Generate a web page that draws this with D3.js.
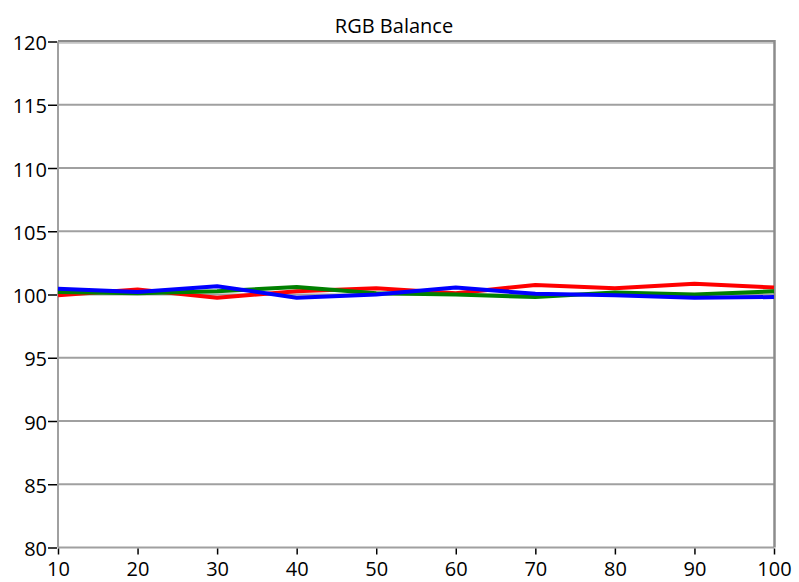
<!DOCTYPE html>
<html><head><meta charset="utf-8">
<script src="https://cdn.jsdelivr.net/npm/d3@7"></script>
<style>body{margin:0;background:#fff}</style>
</head><body>
<script>
const xValues = [10,20,30,40,50,60,70,80,90,100];
const red   = [99.95,100.4,99.75,100.25,100.5,100.1,100.75,100.5,100.85,100.55];
const green = [100.2,100.1,100.25,100.6,100.1,100.0,99.8,100.15,100.0,100.25];
const blue  = [100.45,100.2,100.65,99.75,100.0,100.55,100.05,99.95,99.75,99.8];
const yTicks = [80,85,90,95,100,105,110,115,120];
const xTicks = [10,20,30,40,50,60,70,80,90,100];
const title = "RGB Balance";

const W=799,H=582;
const m={left:58,right:25,top:41.5,bottom:34.5};
const svg=d3.select("body").append("svg").attr("width",W).attr("height",H);
const x=d3.scaleLinear().domain([10,100]).range([m.left,W-m.right]);
const y=d3.scaleLinear().domain([80,120]).range([H-m.bottom,m.top]);
const font="'Open Sans', sans-serif";

// gridlines
svg.append("g").selectAll("line").data(yTicks).join("line")
  .attr("x1",x(10)).attr("x2",x(100)).attr("y1",d=>y(d)).attr("y2",d=>y(d))
  .attr("stroke","#a0a0a0").attr("stroke-width",2);
// frame
svg.append("line").attr("x1",x(10)).attr("x2",x(100)+1).attr("y1",y(120)-0.5).attr("y2",y(120)-0.5).attr("stroke","#8c8c8c").attr("stroke-width",2);
svg.append("line").attr("x1",x(10)).attr("x2",x(100)).attr("y1",y(120)+1.5).attr("y2",y(120)+1.5).attr("stroke","#c0c0c0").attr("stroke-width",1.5);
svg.append("line").attr("x1",x(10)).attr("x2",x(10)).attr("y1",y(120)).attr("y2",y(80)).attr("stroke","#a0a0a0").attr("stroke-width",2);
svg.append("line").attr("x1",x(100)+0.5).attr("x2",x(100)+0.5).attr("y1",y(120)-1.5).attr("y2",y(80)).attr("stroke","#8c8c8c").attr("stroke-width",2.5);

// y axis
const ya=svg.append("g").attr("transform",`translate(${x(10)-1},0)`)
  .call(d3.axisLeft(y).tickValues(yTicks).tickSize(9).tickPadding(1).tickFormat(d3.format("d")));
ya.select(".domain").remove();
ya.selectAll("line").attr("stroke","#000").attr("stroke-width",1.5);
ya.selectAll("text").attr("font-family",font).attr("font-size",20).attr("fill","#000").attr("dy","0.4em");

// x axis
const xa=svg.append("g").attr("transform",`translate(0,${y(80)+1})`)
  .call(d3.axisBottom(x).tickValues(xTicks).tickSize(6).tickPadding(7).tickFormat(d3.format("d")));
xa.select(".domain").remove();
xa.selectAll("line").attr("stroke","#000").attr("stroke-width",1.5);
xa.selectAll("text").attr("font-family",font).attr("font-size",20).attr("fill","#000");

// lines
const line=d3.line().x((d,i)=>x(xValues[i])).y(d=>y(d));
[[red,"#ff0000"],[green,"#008000"],[blue,"#0000ff"]].forEach(([s,c])=>{
  svg.append("path").datum(s).attr("d",line).attr("fill","none")
    .attr("stroke",c).attr("stroke-width",4).attr("stroke-linejoin","round");
});

svg.append("text").attr("x",394).attr("y",33).attr("text-anchor","middle")
  .attr("font-family",font).attr("font-size",20).attr("fill","#000").text(title);
</script>
</body></html>
